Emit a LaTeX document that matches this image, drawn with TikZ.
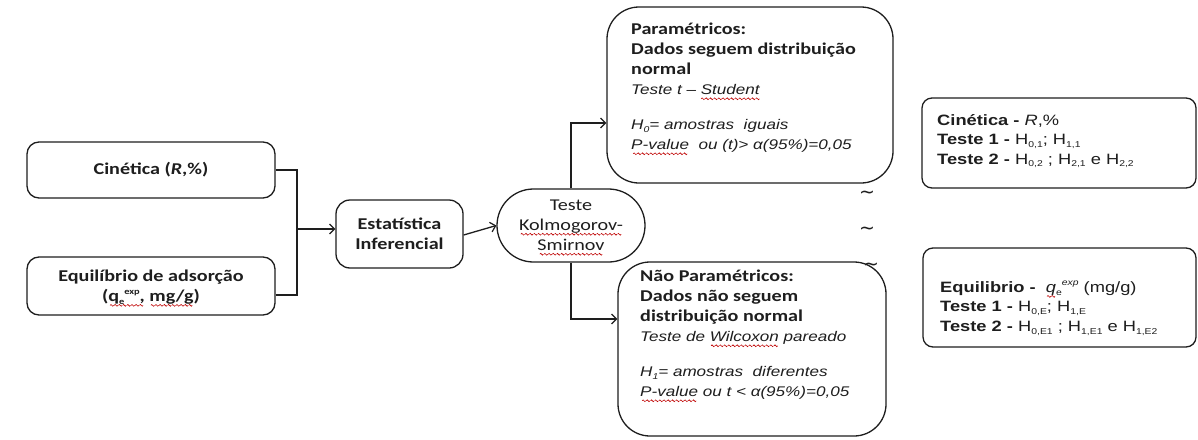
\documentclass[tikz,border=0pt]{standalone}
\usepackage{fontspec}
\setmainfont{Carlito}[FakeStretch=1.22]
\newfontfamily\arialf{Liberation Sans}[FakeStretch=1.22]
\newfontfamily\wavef{DejaVu Sans}
\usetikzlibrary{arrows.meta,shapes.misc}
\newsavebox\wavebox
\newcommand\wseg{\tikz[baseline=0pt]\draw[red!75!black,line width=0.6pt] (0pt,0pt) sin (0.9pt,0.9pt) cos (1.8pt,0pt) sin (2.7pt,-0.9pt) cos (3.6pt,0pt);}
\newcommand\redwave[1]{\sbox\wavebox{#1}\leavevmode\rlap{\raisebox{-4pt}[0pt][0pt]{\hbox to \wd\wavebox{\cleaders\hbox{\wseg}\hfil}}}\usebox\wavebox}
\newcommand\mysb[1]{\raisebox{-0.35ex}{\fontsize{8.5}{8.5}\selectfont #1}}
\newcommand\mysp[1]{\raisebox{0.9ex}{\fontsize{8.5}{8.5}\selectfont #1}}
\definecolor{ink}{HTML}{1E1E1E}
\tikzset{
  box/.style={draw=ink, line width=1.3pt, rounded corners=#1, inner sep=0pt},
  box/.default=12pt,
  conn/.style={draw=ink, line width=1.3pt},
  arr/.style={conn, -{Straight Barb[length=5pt,width=10pt,line width=1.2pt]}},
  lbl/.style={text=ink, font=\fontsize{16.5}{20}\selectfont\bfseries, align=center, inner sep=0pt},
  ptxt/.style={text=ink, font=\fontsize{16.5}{20}\selectfont, align=left, inner sep=0pt, anchor=north west},
  rtxt/.style={text=ink, font=\arialf\fontsize{15}{19.5}\selectfont, align=left, inner sep=0pt, anchor=west},
  tld/.style={text=ink, font=\wavef\fontsize{19}{19}\selectfont, inner sep=0pt}
}
\begin{document}
\begin{tikzpicture}[x=1pt,y=-1pt]
\useasboundingbox (0,0) rectangle (1198,439);
\fill[white] (0,0) rectangle (1198,439);

% left boxes
\node[box, minimum width=248pt, minimum height=56pt] (cin) at (151,170) {};
\node[lbl] (cint) at (cin.center) {Cinética (\textit{R},\%)};
\node[box, minimum width=248pt, minimum height=58pt] (equ) at (151,286) {};
\node[lbl] (equt) at (cin.center |- 0,287) {Equilíbrio de adsorção\\(\redwave{q\mysb{e}\mysp{exp},} \redwave{mg/g})};

% middle
\node[box=14pt, minimum width=127pt, minimum height=68pt] (est) at (399.5,234) {};
\node[lbl] (estt) at (est.center) {Estatística\\Inferencial};
\node[draw=ink, line width=1.3pt, rounded rectangle, minimum width=148pt, minimum height=73pt, inner sep=0pt] (ks) at (571,225.5) {};
\node[lbl, font=\fontsize{16.5}{20}\selectfont] (kst) at (571,225) {Teste\\\redwave{Kolmogorov-}\\\redwave{Smirnov}};

% big boxes
\node[box=32pt, minimum width=286pt, minimum height=176pt] (par) at (750,95) {};
\node[ptxt] (part) at (631,23) {\textbf{Paramétricos:}\\\textbf{Dados seguem distribuição}\\\textbf{normal}\\
  {\arialf\itshape\fontsize{14}{19}\selectfont Teste t – \redwave{Student}}\\[15pt]
  {\arialf\itshape\fontsize{14}{19}\selectfont H\mysb{0}= amostras\ \ iguais}\\
  {\arialf\itshape\fontsize{14}{19}\selectfont \redwave{P-value}\ \ ou (t)> α(95\%)=0,05}};

\node[box=32pt, minimum width=268pt, minimum height=174pt] (npar) at (752,349) {};
\node[ptxt] (npart) at (640,270) {\textbf{Não Paramétricos:}\\\textbf{Dados não seguem}\\\textbf{distribuição normal}\\
  {\arialf\itshape\fontsize{14}{19}\selectfont Teste de \redwave{Wilcoxon} pareado}\\[15pt]
  {\arialf\itshape\fontsize{14}{19}\selectfont H\mysb{1}= amostras\ \ diferentes}\\
  {\arialf\itshape\fontsize{14}{19}\selectfont \redwave{P-value} ou t < α(95\%)=0,05}};

% right boxes
\node[box=10pt, minimum width=274pt, minimum height=90pt] (rc) at (1059,143) {};
\node[rtxt] (rct) at (937,141) {\textbf{Cinética -} \textit{R},\%\\
  \textbf{Teste 1 -} H\mysb{0,1}; H\mysb{1,1}\\
  \textbf{Teste 2 -} H\mysb{0,2} ; H\mysb{2,1} e H\mysb{2,2}};
\node[box=10pt, minimum width=273pt, minimum height=99pt] (re) at (1059.5,297.5) {};
\node[rtxt] (ret) at (940,308) {\textbf{Equilibrio -}\ \ \redwave{\textit{q}}\mysb{e}\mysp{\itshape exp} (mg/g)\\
  \textbf{Teste 1 -} H\mysb{0,E}; H\mysb{1,E}\\
  \textbf{Teste 2 -} H\mysb{0,E1} ; H\mysb{1,E1} e H\mysb{1,E2}};

% tildes
\node[tld] (t1) at (867,195) {\char"223C};
\node[tld] (t2) at (867,231) {\char"223C};
\node[tld] (t3) at (871,267) {\char"223C};

% connectors
\coordinate (jx) at (297,229);
\draw[conn] (cin.east) -| (jx);
\draw[conn] ([yshift=-9pt]equ.east) -| (jx);
\draw[arr] (jx) -- (jx -| est.west);
\draw[arr] ([yshift=-1pt]est.east) -- (ks.west);
\draw[arr] (ks.north) |- ([yshift=-28pt]par.west);
\draw[arr] (ks.south) |- ([yshift=30pt]npar.west);
\end{tikzpicture}
\end{document}
